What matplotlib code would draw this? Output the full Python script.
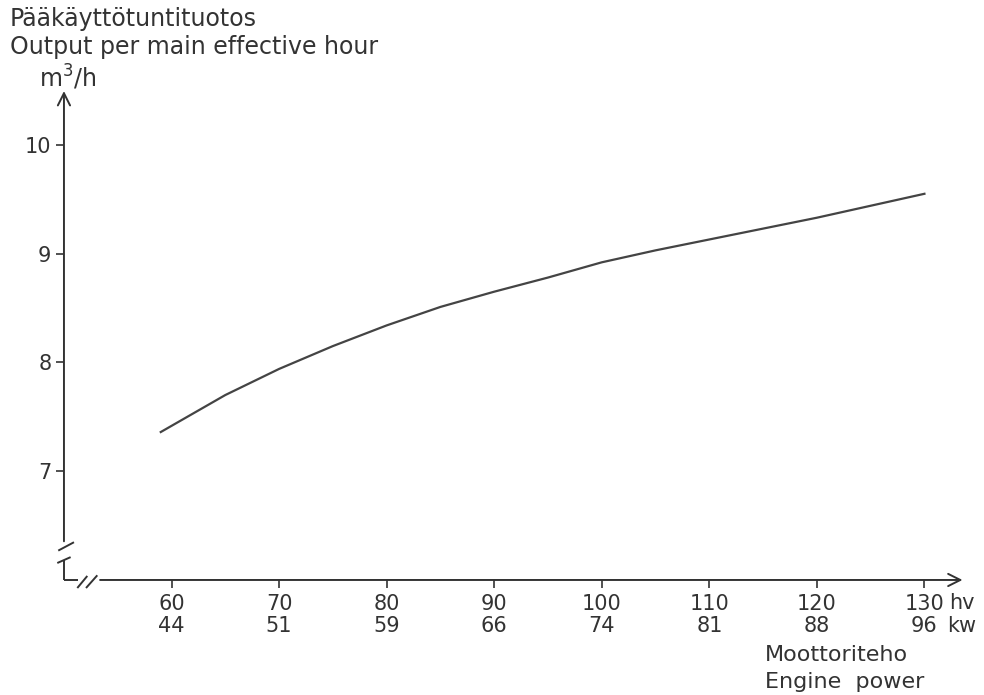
import matplotlib
matplotlib.use('Agg')
import matplotlib.pyplot as plt

plt.rcParams['font.family'] = ['DejaVu Sans']

# 数据 (hv, m3/h)
hv = [59, 65, 70, 75, 80, 85, 90, 95, 100, 105, 110, 115, 120, 125, 130]
output = [7.36, 7.70, 7.94, 8.15, 8.34, 8.51, 8.65, 8.78, 8.92, 9.03, 9.13, 9.23, 9.33, 9.44, 9.55]

x_ticks = [60, 70, 80, 90, 100, 110, 120, 130]
kw_labels = ['44', '51', '59', '66', '74', '81', '88', '96']
y_ticks = [7, 8, 9, 10]

ink = '#333333'

fig = plt.figure(figsize=(9.84, 6.95), dpi=100)
ax = fig.add_axes([0.065, 0.1655, 0.916, 0.7075])
ax.set_xlim(50, 133.8)
ax.set_ylim(6, 10.52)

ax.plot(hv, output, color='#444444', linewidth=1.6, solid_joinstyle='round')

# 坐标轴（自己画，带箭头和断裂符号）
for s in ax.spines.values():
    s.set_visible(False)
ax.annotate('', xy=(50, 10.52), xytext=(50, 6.33),
            arrowprops=dict(arrowstyle='->', color=ink, lw=1.4, mutation_scale=22),
            annotation_clip=False)
ax.annotate('', xy=(133.8, 6), xytext=(53.1, 6),
            arrowprops=dict(arrowstyle='->', color=ink, lw=1.4, mutation_scale=22),
            annotation_clip=False)
kw = dict(color=ink, lw=1.4, clip_on=False, solid_capstyle='butt')
ax.plot([50, 50], [6, 6.18], **kw)
ax.plot([50, 51.3], [6, 6], **kw)
ax.plot([49.47, 50.93], [6.27, 6.347], **kw)
ax.plot([49.38, 50.62], [6.156, 6.21], **kw)
ax.plot([51.24, 52.17], [5.926, 6.037], **kw)
ax.plot([52.05, 53.10], [5.926, 6.043], **kw)

# 刻度
ax.set_xticks(x_ticks)
ax.set_xticklabels([f'{a}\n{b}' for a, b in zip(x_ticks, kw_labels)],
                   fontsize=15, color=ink, linespacing=1.15)
ax.set_yticks(y_ticks)
ax.set_yticklabels([str(v) for v in y_ticks], fontsize=15, color=ink)
ax.tick_params(axis='x', direction='out', length=6, width=1.2, color=ink, pad=4)
ax.tick_params(axis='y', direction='out', length=6, width=1.2, color=ink, pad=3)

# 标签
fig.text(0.965, 0.132, 'hv', fontsize=15, color=ink, ha='left', va='center')
fig.text(0.963, 0.099, 'kw', fontsize=15, color=ink, ha='left', va='center')
fig.text(0.777, 0.057, 'Moottoriteho', fontsize=16, color=ink, ha='left', va='center')
fig.text(0.777, 0.018, 'Engine  power', fontsize=16, color=ink, ha='left', va='center')
fig.text(0.010, 0.973, 'Pääkäyttötuntituotos', fontsize=17, color=ink, ha='left', va='center')
fig.text(0.010, 0.932, 'Output per main effective hour', fontsize=17, color=ink, ha='left', va='center')
fig.text(0.040, 0.888, r'm$^3$/h', fontsize=17, color=ink, ha='left', va='center')

fig.savefig('out.png', dpi=100, facecolor='white')
